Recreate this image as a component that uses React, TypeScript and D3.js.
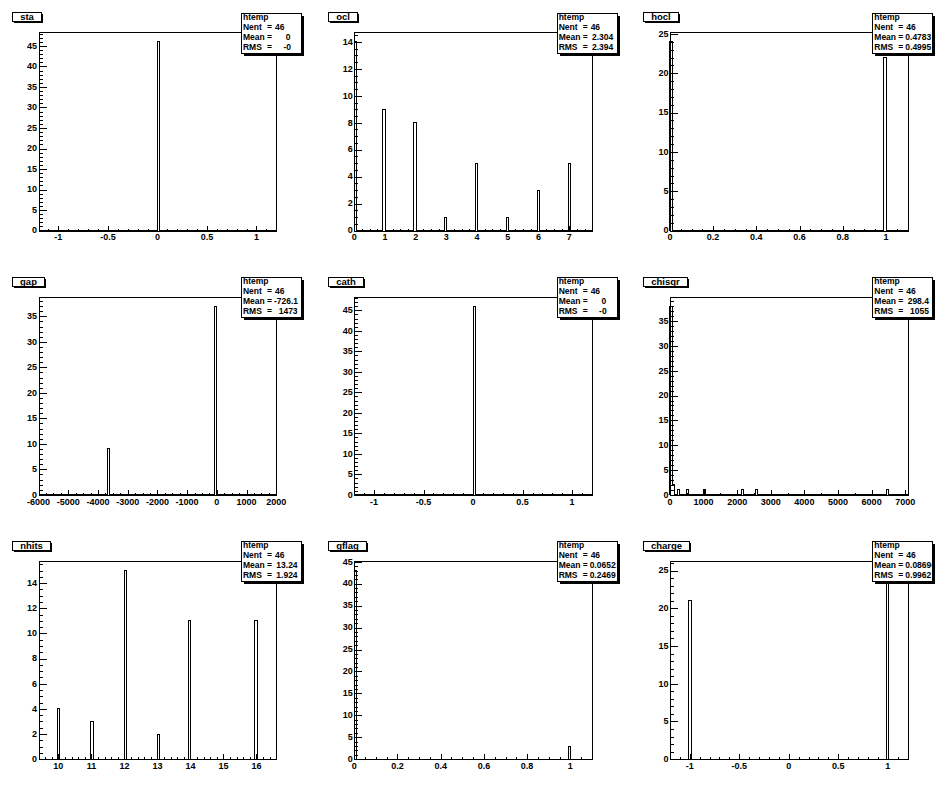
import React from 'react';
import * as d3 from 'd3';

const W = 947;
const H = 793;

// ---- data ----
const titles = ["sta", "ocl", "hocl", "gap", "cath", "chisqr", "nhits", "gflag", "charge"];

const staX = [0];
const staN = [46];
const oclX = [0, 1, 2, 3, 4, 5, 6, 7];
const oclN = [14, 9, 8, 1, 5, 1, 3, 5];
const hoclX = [0, 1];
const hoclN = [24, 22];
const gapX = [-3670, -10];
const gapN = [9, 37];
const cathX = [0];
const cathN = [46];
const chisqrX = [20, 100, 245, 530, 1000, 2140, 2580, 6470];
const chisqrN = [38, 2, 1, 1, 1, 1, 1, 1];
const nhitsX = [10, 11, 12, 13, 14, 16];
const nhitsN = [4, 3, 15, 2, 11, 11];
const gflagX = [0, 1];
const gflagN = [43, 3];
const chargeX = [-1, 1];
const chargeN = [21, 25];

const xDomains = [[-1.2, 1.2], [0, 7.74], [0, 1.1], [-6000, 2000], [-1.2, 1.2], [0, 7070], [9.4, 16.6], [0, 1.1], [-1.2, 1.2]];
const xMajor = [0.5, 1, 0.2, 1000, 0.5, 1000, 1, 0.2, 0.5];
const xMinor = [0.1, 0.25, 0.05, 250, 0.1, 500, 0.2, 0.05, 0.1];
const yMajor = [5, 2, 5, 5, 5, 5, 2, 5, 5];
const yMinor = [1, 0.5, 1, 1, 1, 1, 0.5, 1, 1];

const statName = "htemp";
const entries = [46, 46, 46, 46, 46, 46, 46, 46, 46];
const means = ["0", "2.304", "0.4783", "-726.1", "0", "298.4", "13.24", "0.06522", "0.08696"];
const rmss = ["-0", "2.394", "0.4995", "1473", "-0", "1055", "1.924", "0.2469", "0.9962"];

const seriesX = [staX, oclX, hoclX, gapX, cathX, chisqrX, nhitsX, gflagX, chargeX];
const seriesN = [staN, oclN, hoclN, gapN, cathN, chisqrN, nhitsN, gflagN, chargeN];

const NBINS = 100;
const FONT = "'Liberation Sans', Arial, Helvetica, sans-serif";

let measureCtx: CanvasRenderingContext2D | null = null;
function textWidth(s: string, size: number): number {
  if (!measureCtx) {
    const c = document.createElement('canvas');
    measureCtx = c.getContext('2d');
  }
  if (!measureCtx) return s.length * size * 0.55;
  measureCtx.font = `bold ${size}px ${FONT}`;
  return measureCtx.measureText(s).width;
}

function genTicks(lo: number, hi: number, step: number): number[] {
  const out: number[] = [];
  const k0 = Math.ceil(lo / step - 1e-6);
  const k1 = Math.floor(hi / step + 1e-6);
  for (let k = k0; k <= k1; k++) out.push(+(k * step).toFixed(6));
  return out;
}

function isMultiple(v: number, step: number) {
  const q = v / step;
  return Math.abs(q - Math.round(q)) < 1e-6;
}

function fmt(v: number): string {
  const r = +v.toFixed(6);
  return String(r === 0 ? 0 : r);
}

const px = (v: number) => Math.round(v) + 0.5;

function Panel({ i }: { i: number }) {
  const c = i % 3;
  const r = Math.floor(i / 3);
  const padX = c * W / 3 + 9.47;
  const padY = r * H / 3 + 7.93;
  const fx0 = padX + 29.1;
  const fx1 = padX + 266.8;
  const fy0 = padY + 24.5;
  const fy1 = padY + 222.6;

  const [xmin, xmax] = xDomains[i];
  const vals = seriesX[i];
  const cnts = seriesN[i];
  const maxN = d3.max(cnts) as number;

  const x = d3.scaleLinear().domain([xmin, xmax]).range([fx0, fx1]);
  const y = d3.scaleLinear().domain([0, maxN * 1.05]).range([fy1, fy0]);

  // histogram bins
  const bw = (xmax - xmin) / NBINS;
  const bins = new Array(NBINS).fill(0);
  vals.forEach((v, k) => {
    const b = Math.floor((v - xmin) / bw + 1e-9);
    if (b >= 0 && b < NBINS) bins[b] += cnts[k];
  });
  const pts: [number, number][] = [[xmin, 0]];
  for (let b = 0; b < NBINS; b++) pts.push([xmin + b * bw, bins[b]]);
  pts.push([xmax, 0]);
  const line = d3.line<[number, number]>()
    .x(d => x(d[0]))
    .y(d => y(d[1]))
    .curve(d3.curveStepAfter);
  const histPath = line(pts) || '';

  const xMaj = genTicks(xmin, xmax, xMajor[i]);
  const xMin = genTicks(xmin, xmax, xMinor[i]).filter(v => !isMultiple(v, xMajor[i]));
  const yTop = maxN * 1.05;
  const yMaj = genTicks(0, yTop, yMajor[i]);
  const yMin = genTicks(0, yTop, yMinor[i]).filter(v => !isMultiple(v, yMajor[i]));

  // title box
  const tSize = 9.5;
  const tw = textWidth(titles[i], tSize);
  const tbW = Math.max(29, tw + 15);
  const tbX = padX + 2.6;
  const tbY = padY + 4.5;
  const tbH = 9;

  // stats box
  const sx0 = padX + 231.5;
  const sx1 = padX + 291;
  const sy0 = padY + 4.8;
  const sy1 = padY + 45;
  const sSize = 8.5;
  const clipId = `stclip${i}`;

  const yb = fy1;
  return (
    <g>
      {/* frame */}
      <rect x={px(fx0)} y={px(fy0)} width={Math.round(fx1) - Math.round(fx0)} height={Math.round(fy1) - Math.round(fy0)}
        fill="none" stroke="#000" strokeWidth={1} shapeRendering="crispEdges" />
      {/* histogram */}
      <path d={histPath} fill="none" stroke="#000" strokeWidth={1} shapeRendering="crispEdges" />
      {/* axis ticks */}
      <g shapeRendering="crispEdges" stroke="#000" strokeWidth={1}>
        {xMaj.map(v => (
          <line key={'xM' + v} x1={px(x(v))} x2={px(x(v))} y1={px(yb)} y2={px(yb) - 6} />
        ))}
        {xMin.map(v => (
          <line key={'xm' + v} x1={px(x(v))} x2={px(x(v))} y1={px(yb)} y2={px(yb) - 3} />
        ))}
        {yMaj.map(v => (
          <line key={'yM' + v} x1={px(fx0)} x2={px(fx0) + 7} y1={px(y(v))} y2={px(y(v))} />
        ))}
        {yMin.map(v => (
          <line key={'ym' + v} x1={px(fx0)} x2={px(fx0) + 3.5} y1={px(y(v))} y2={px(y(v))} />
        ))}
      </g>
      {/* tick labels */}
      <g fontFamily={FONT} fontWeight="bold" fontSize={9} fill="#000">
        {xMaj.map(v => (
          <text key={'xl' + v} x={x(v)} y={yb + 9.8} textAnchor="middle">{fmt(v)}</text>
        ))}
        {yMaj.map(v => (
          <text key={'yl' + v} x={fx0 - 1.5} y={y(v) + 2.8} textAnchor="end">{fmt(v)}</text>
        ))}
      </g>
      {/* title box */}
      <rect x={px(tbX) + 1.5} y={px(tbY) + 1.5} width={Math.round(tbW)} height={tbH} fill="#000" shapeRendering="crispEdges" />
      <rect x={px(tbX)} y={px(tbY)} width={Math.round(tbW)} height={tbH} fill="#fff" stroke="#000" strokeWidth={1} shapeRendering="crispEdges" />
      <text x={px(tbX) + Math.round(tbW) / 2} y={px(tbY) + 7.6} textAnchor="middle" fontFamily={FONT} fontWeight="bold" fontSize={tSize}>{titles[i]}</text>
      {/* stats box */}
      <defs>
        <clipPath id={clipId}>
          <rect x={sx0} y={sy0} width={sx1 - sx0} height={sy1 - sy0} />
        </clipPath>
      </defs>
      <rect x={px(sx0) + 2} y={px(sy0) + 2} width={Math.round(sx1 - sx0)} height={Math.round(sy1 - sy0)} fill="#000" shapeRendering="crispEdges" />
      <rect x={px(sx0)} y={px(sy0)} width={Math.round(sx1 - sx0)} height={Math.round(sy1 - sy0)} fill="#fff" stroke="#000" strokeWidth={1} shapeRendering="crispEdges" />
      <g clipPath={`url(#${clipId})`} fontFamily={FONT} fontWeight="bold" fontSize={sSize} fill="#000">
        <text x={sx0 + 2} y={sy0 + 6.8}>{statName}</text>
        <text x={sx0 + 2} y={sy0 + 16.8}>Nent</text>
        <text x={sx0 + 28.5} y={sy0 + 16.8} textAnchor="middle">=</text>
        <text x={sx0 + 34} y={sy0 + 16.8}>{String(entries[i])}</text>
        <text x={sx0 + 2} y={sy0 + 26.8}>Mean</text>
        <text x={sx0 + 28.5} y={sy0 + 26.8} textAnchor="middle">=</text>
        <text x={sx0 + 33} y={sy0 + 26.8} xmlSpace="preserve" style={{ whiteSpace: 'pre' }}>{means[i].padStart(6, ' ')}</text>
        <text x={sx0 + 2} y={sy0 + 36.8}>RMS</text>
        <text x={sx0 + 28.5} y={sy0 + 36.8} textAnchor="middle">=</text>
        <text x={sx0 + 33} y={sy0 + 36.8} xmlSpace="preserve" style={{ whiteSpace: 'pre' }}>{rmss[i].padStart(6, ' ')}</text>
      </g>
    </g>
  );
}

export default function App() {
  return (
    <svg width={W} height={H} viewBox={`0 0 ${W} ${H}`}
      style={{ position: 'absolute', left: 0, top: 0, background: '#fff', display: 'block' }}>
      <rect x={0} y={0} width={W} height={H} fill="#fff" />
      {titles.map((t, i) => <Panel key={t} i={i} />)}
    </svg>
  );
}
